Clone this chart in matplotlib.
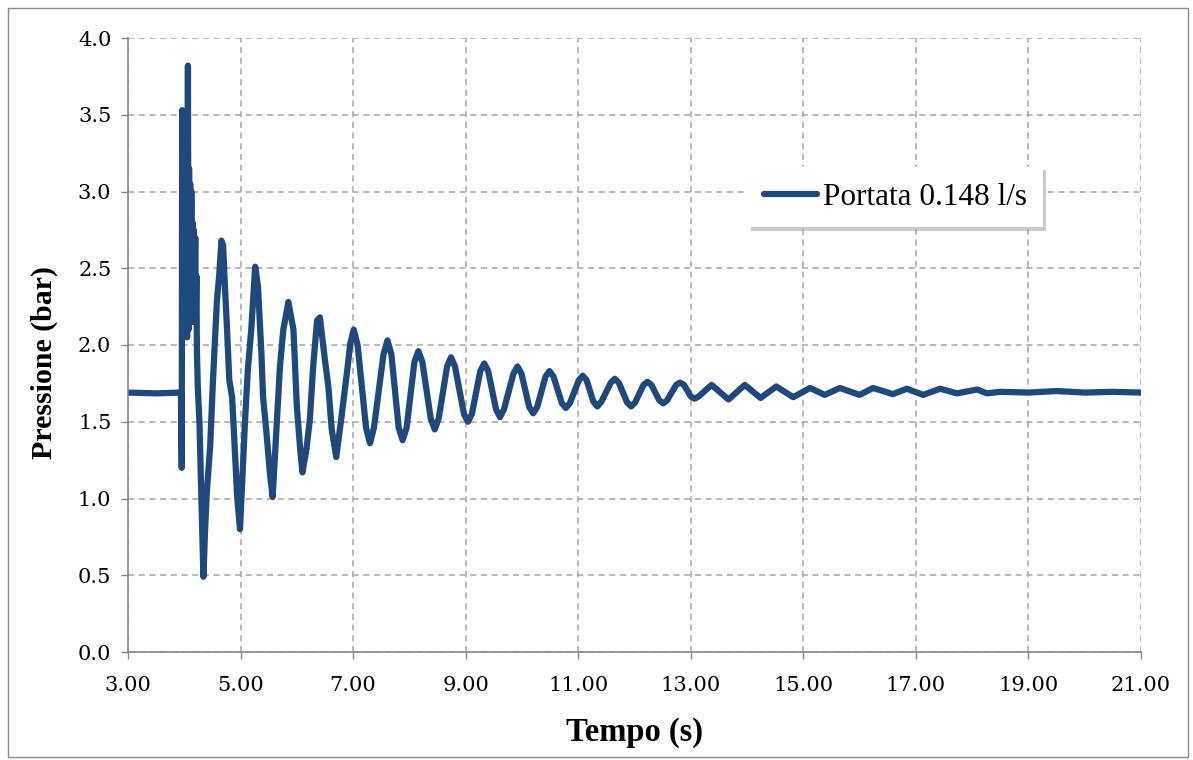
import matplotlib
matplotlib.use("Agg")
import matplotlib.pyplot as plt
from matplotlib.patches import Rectangle
from matplotlib.ticker import MultipleLocator, FormatStrFormatter

# Pressure trace (time in s, pressure in bar)
tempo = [
    3.00, 3.50, 3.93, 3.940, 3.955, 3.962, 3.970, 3.980, 3.990, 4.000,
    4.010, 4.020, 4.030, 4.040, 4.050, 4.065, 4.075, 4.085, 4.095, 4.105,
    4.115, 4.125, 4.135, 4.145, 4.155, 4.170, 4.180, 4.195, 4.205, 4.215,
    4.225, 4.24, 4.27, 4.30, 4.32, 4.34, 4.37, 4.40, 4.43, 4.46,
    4.51, 4.58, 4.62, 4.66, 4.69, 4.72, 4.76, 4.80, 4.85, 4.88,
    4.94, 4.99, 5.03, 5.08, 5.13, 5.19, 5.26, 5.31, 5.37, 5.40,
    5.46, 5.52, 5.57, 5.64, 5.70, 5.76, 5.85, 5.94, 6.00, 6.06,
    6.10, 6.17, 6.23, 6.29, 6.36, 6.41, 6.50, 6.56, 6.62, 6.70,
    6.80, 6.90, 6.95, 7.01, 7.08, 7.23, 7.30, 7.37, 7.54, 7.61,
    7.68, 7.81, 7.88, 7.95, 8.09, 8.16, 8.23, 8.38, 8.45, 8.52,
    8.67, 8.74, 8.81, 8.97, 9.04, 9.11, 9.26, 9.33, 9.40, 9.54,
    9.61, 9.68, 9.85, 9.92, 9.99, 10.13, 10.20, 10.27, 10.42, 10.49,
    10.56, 10.71, 10.78, 10.85, 11.01, 11.08, 11.15, 11.27, 11.34, 11.41,
    11.58, 11.65, 11.72, 11.87, 11.94, 12.01, 12.16, 12.23, 12.30, 12.44,
    12.51, 12.58, 12.74, 12.81, 12.88, 13.00, 13.07, 13.14, 13.37, 13.67,
    13.96, 14.24, 14.52, 14.82, 15.12, 15.38, 15.65, 16.00, 16.24, 16.59,
    16.84, 17.13, 17.43, 17.73, 18.09, 18.26, 18.50, 19.00, 19.50, 20.00,
    20.50, 21.00,
]
pressione = [
    1.69, 1.685, 1.69, 1.69, 1.20, 3.53, 2.25, 2.95, 2.15, 3.10,
    2.10, 3.24, 2.20, 3.00, 2.05, 3.82, 2.10, 3.15, 2.20, 3.05,
    2.15, 3.00, 2.25, 2.80, 2.15, 2.75, 2.25, 2.70, 2.20, 2.45,
    1.95, 1.73, 1.49, 1.05, 0.75, 0.49, 0.80, 1.04, 1.19, 1.34,
    1.77, 2.29, 2.45, 2.68, 2.65, 2.40, 2.10, 1.77, 1.66, 1.45,
    1.01, 0.80, 1.12, 1.51, 1.84, 2.10, 2.51, 2.38, 1.95, 1.66,
    1.43, 1.17, 1.01, 1.47, 1.86, 2.10, 2.28, 2.10, 1.60, 1.32,
    1.17, 1.32, 1.51, 1.86, 2.16, 2.18, 1.90, 1.73, 1.45, 1.27,
    1.55, 1.85, 2.01, 2.10, 2.00, 1.46, 1.36, 1.46, 1.94, 2.03,
    1.94, 1.46, 1.38, 1.46, 1.89, 1.96, 1.89, 1.52, 1.45, 1.52,
    1.86, 1.92, 1.86, 1.55, 1.50, 1.55, 1.83, 1.88, 1.83, 1.58,
    1.53, 1.58, 1.815, 1.86, 1.815, 1.595, 1.555, 1.595, 1.795, 1.83,
    1.795, 1.62, 1.59, 1.62, 1.77, 1.80, 1.77, 1.63, 1.60, 1.63,
    1.755, 1.78, 1.755, 1.625, 1.60, 1.625, 1.74, 1.76, 1.74, 1.64,
    1.62, 1.64, 1.74, 1.755, 1.74, 1.665, 1.65, 1.665, 1.74, 1.645,
    1.74, 1.655, 1.73, 1.66, 1.72, 1.675, 1.72, 1.675, 1.72, 1.68,
    1.715, 1.675, 1.715, 1.685, 1.71, 1.685, 1.695, 1.69, 1.70, 1.69,
    1.695, 1.69,
]
serie_label = "Portata 0.148 l/s"

x_ticks = [3, 5, 7, 9, 11, 13, 15, 17, 19, 21]

line_color = "#1F497D"
grid_color = "#A6A6A6"
axis_color = "#868686"
serif = ["Liberation Serif", "DejaVu Serif"]
tick_font = ["DejaVu Serif"]

W, H = 1193, 760
fig = plt.figure(figsize=(W / 100, H / 100), dpi=100)
ax = fig.add_axes([128 / W, 1 - 652 / H, (1141 - 128) / W, (652 - 38) / H])

ax.plot(tempo, pressione, color=line_color, lw=4.5,
        solid_joinstyle="round", solid_capstyle="round", label=serie_label)

ax.set_xlim(3, 21)
ax.set_ylim(0, 4.0)
ax.set_xticks(x_ticks)
ax.yaxis.set_major_locator(MultipleLocator(0.5))
ax.xaxis.set_major_formatter(FormatStrFormatter("%.2f"))
ax.yaxis.set_major_formatter(FormatStrFormatter("%.1f"))

ax.grid(True, which="major", color=grid_color, linestyle=(0, (4, 3)), lw=1.1)
ax.set_axisbelow(True)
for side in ("top", "right"):
    ax.spines[side].set_visible(False)
for side in ("left", "bottom"):
    ax.spines[side].set_color(axis_color)
    ax.spines[side].set_linewidth(1.2)

ax.tick_params(axis="both", direction="out", length=5, width=1.0,
               color=axis_color, labelcolor="#000000", labelsize=15)
ax.tick_params(axis="y", pad=7)
ax.tick_params(axis="x", pad=12)
for lab in ax.get_xticklabels() + ax.get_yticklabels():
    lab.set_family(tick_font)

ax.set_xlabel("Tempo (s)", family=serif, fontsize=23.5, fontweight="bold",
              labelpad=16)
ax.set_ylabel("Pressione (bar)", family=serif, fontsize=21.5, fontweight="bold")
ax.yaxis.set_label_coords(-0.069, 0.472)

leg = ax.legend(loc="upper left", bbox_to_anchor=(0.612, 0.79),
                borderaxespad=0, frameon=True, fancybox=False,
                prop={"family": serif, "size": 22.5},
                handlelength=1.7, handletextpad=0.2, borderpad=0.5,
                shadow={"color": "#a8a8a8", "alpha": 0.6, "ox": 2.5, "oy": -2.5})
leg.get_frame().set_edgecolor("white")
leg.get_frame().set_linewidth(0)

# outer chart border
fig.add_artist(Rectangle((8 / W, 3 / H), (1188 - 8) / W, (757 - 3 - 5) / H,
                         transform=fig.transFigure, fill=False,
                         edgecolor="#8c8c8c", lw=1.0))

fig.savefig("out.png", dpi=100)
